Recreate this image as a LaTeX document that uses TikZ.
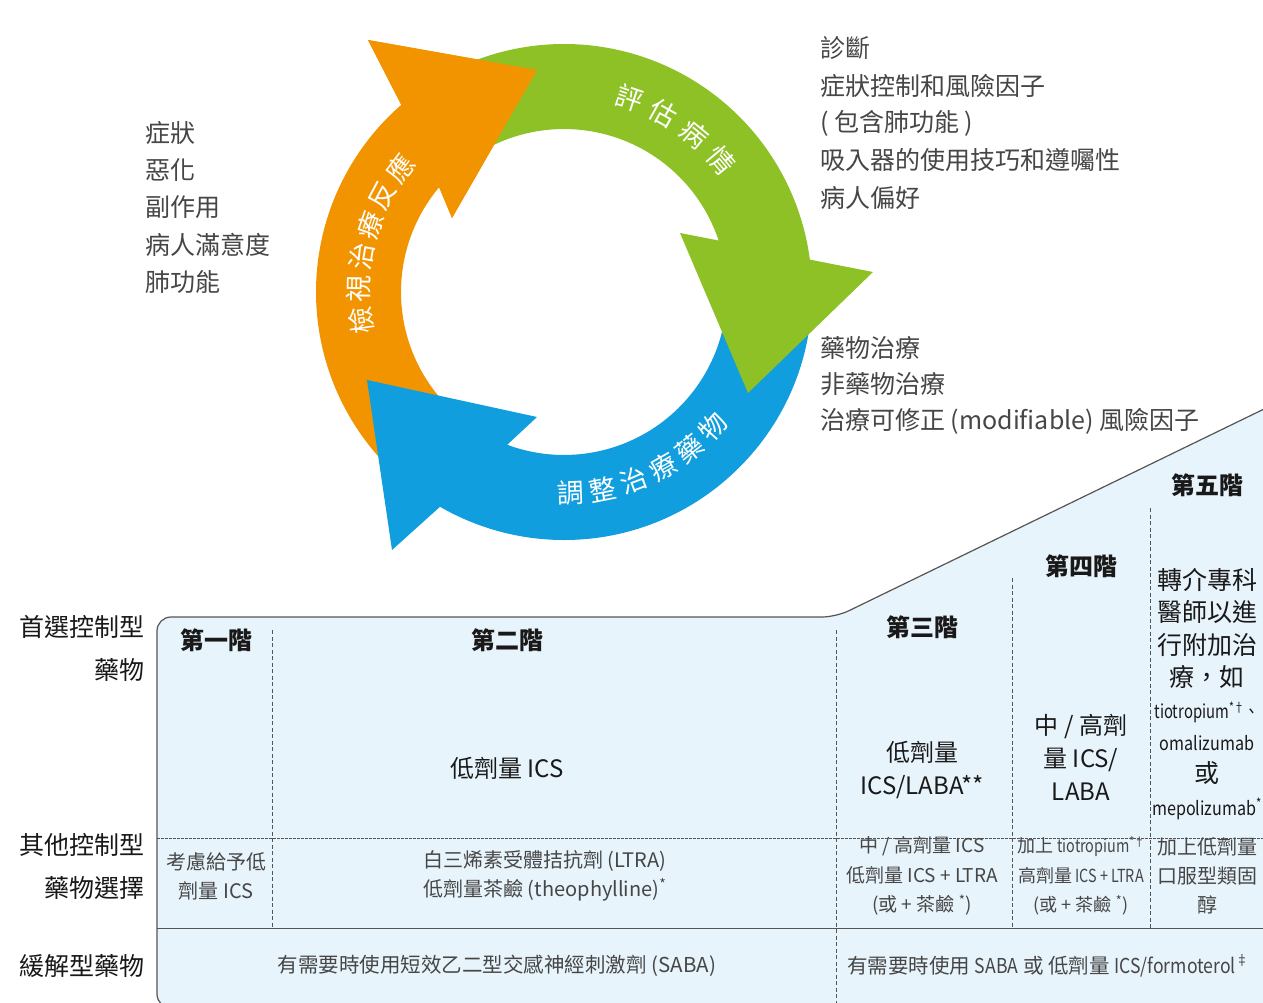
\documentclass[tikz,border=0pt]{standalone}
\usepackage{fontspec}
\setmainfont{Noto Sans CJK TC}
\usepackage{graphicx}
\usepackage{tikz}
\usetikzlibrary{calc}
\definecolor{cycorange}{RGB}{242, 148, 0}
\definecolor{cycgreen}{RGB}{141, 193, 38}
\definecolor{cycblue}{RGB}{16, 158, 222}
\definecolor{steptint}{RGB}{232, 244, 251}
\definecolor{edgegray}{RGB}{85, 85, 85}
\definecolor{txtgray}{RGB}{70, 70, 70}
\definecolor{txtdark}{RGB}{25, 25, 25}
\newcommand{\narrowtxt}[2][0.82]{\scalebox{#1}[1]{#2}}

\begin{document}
\begin{tikzpicture}[
    x=1pt, y=-1pt,
    lst/.style={anchor=west, inner sep=0pt, text=txtgray,
                font=\fontsize{25}{30}\selectfont},
    ringtxt/.style={inner sep=0pt, text=white, font=\fontsize{27}{30}\selectfont},
    rowlbl/.style={anchor=east, align=right, inner sep=0pt, text=txtdark,
                   font=\fontsize{25}{43}\selectfont},
    steplbl/.style={inner sep=0pt, text=txtdark, font=\fontsize{24}{30}\selectfont\bfseries},
    maincell/.style={align=center, inner sep=0pt, text=txtdark,
                     font=\fontsize{24}{33}\selectfont},
    othercell/.style={align=center, inner sep=0pt, text=txtgray,
                      font=\fontsize{20}{29}\selectfont},
    relcell/.style={inner sep=0pt, text=txtgray, font=\fontsize{20.5}{25}\selectfont},
    gridline/.style={draw=edgegray, line width=0.7pt, dash pattern=on 4pt off 2.5pt},
  ]
  \useasboundingbox (0,0) rectangle (1263,1003);
  \fill[white] (0,0) rectangle (1263,1003);

  % ── Cycle ──────────────────────────────────────
  \coordinate (cc) at (564,292);

  \fill[cycorange] ($(cc)+(138:248)$) arc[start angle=138, end angle=229, radius=248]
        -- (368,40) -- (537,70) -- (452,218) -- ($(cc)+(220:163)$)
        arc[start angle=220, end angle=138, radius=163] -- cycle;
  \fill[cycblue] ($(cc)+(0:248)$) arc[start angle=0, end angle=120, radius=248]
        -- (392,550) -- (367,380) -- (537,417) -- ($(cc)+(110.4:163)$)
        arc[start angle=110.4, end angle=0, radius=163] -- cycle;
  \fill[cycgreen] ($(cc)+(238:248)$) arc[start angle=238, end angle=352.5, radius=248]
        -- (873,272) -- (748,393) -- (680,233) -- ($(cc)+(341.6:163)$)
        arc[start angle=341.6, end angle=238, radius=163] -- cycle;
  % orange head again, over the green tail
  \fill[cycorange] ($(cc)+(229:248)$) -- (368,40) -- (537,70) -- (452,218)
        -- ($(cc)+(220:163)$) -- cycle;

  \foreach \ch [count=\i, evaluate=\i as \a using 172+(\i-1)*9] in {檢,視,治,療,反,應}
    \node[ringtxt, rotate=-\a-90] (rv\i) at ($(cc)+(\a:205)$) {\ch};
  \foreach \ch [count=\i, evaluate=\i as \a using 288.7+(\i-1)*10.4] in {評,估,病,情}
    \node[ringtxt, rotate=-\a-90] (ev\i) at ($(cc)+(\a:205)$) {\ch};
  \foreach \ch [count=\i, evaluate=\i as \a using 88-(\i-1)*9.2] in {調,整,治,療,藥,物}
    \node[ringtxt, rotate=-\a+90] (ad\i) at ($(cc)+(\a:201)$) {\ch};

  % ── Side notes ─────────────────────────────────
  \foreach \txt [count=\i from 0] in {症狀,惡化,副作用,病人滿意度,肺功能}
    \node[lst] (sx\i) at (145,133+37.3*\i) {\txt};
  \foreach \txt [count=\i from 0] in {診斷,症狀控制和風險因子,( 包含肺功能 ),吸入器的使用技巧和遵囑性,病人偏好}
    \node[lst] (dx\i) at (820,48+37.5*\i) {\txt};
  \foreach \txt [count=\i from 0] in {藥物治療,非藥物治療,治療可修正 (modifiable) 風險因子}
    \node[lst] (tx\i) at (820,348+36.5*\i) {\txt};

  % ── Step table ─────────────────────────────────
  \path[fill=steptint, draw=edgegray, line width=1.2pt, rounded corners=14pt]
    (1290,1008) -- (157,1008) -- (157,617) -- (836,617) -- (1290,396.4);

  \draw[gridline] (272,630) -- (272,928);
  \draw[gridline] (836,630) -- (836,1003);
  \draw[gridline] (1012,578) -- (1012,928);
  \draw[gridline] (1150,508) -- (1150,928);
  \draw[gridline, dash pattern=on 2.5pt off 1.5pt] (157,838) -- (1263,838);
  \draw[draw=edgegray, line width=1pt] (157,928) -- (1263,928);

  \node[rowlbl] (prefer) at (145,648.5) {首選控制型\\藥物};
  \node[rowlbl] (other)  at (145,866.5) {其他控制型\\藥物選擇};
  \node[rowlbl] (relief) at (145,966)   {緩解型藥物};

  \node[steplbl] (s1) at (216,640)  {第一階};
  \node[steplbl] (s2) at (507,640)  {第二階};
  \node[steplbl] (s3) at (922,627)  {第三階};
  \node[steplbl] (s4) at (1081,566) {第四階};
  \node[steplbl] (s5) at (1207,485) {第五階};

  \node[maincell] (c2) at (507,768)  {低劑量 ICS};
  \node[maincell] (c3) at (922,770)  {低劑量\\ICS/LABA**};
  \node[maincell] (c4) at (1081,757) {中 / 高劑\\量 ICS/\\LABA};
  \node[maincell, font=\fontsize{25}{32.2}\selectfont] (c5) at (1207,694)
        {轉介專科\\醫師以進\\行附加治\\療，如\\
         {\fontsize{19}{32.2}\selectfont\narrowtxt[0.78]{tiotropium\textsuperscript{*†}、}}\\
         {\fontsize{19}{32.2}\selectfont\narrowtxt[0.85]{omalizumab}}\\或\\
         {\fontsize{19}{32.2}\selectfont\narrowtxt[0.85]{mepolizumab\textsuperscript{*}}}};

  \node[othercell] (o1) at (216,876) {考慮給予低\\劑量 ICS};
  \node[othercell] (o2) at (545,876)
        {白三烯素受體拮抗劑 (LTRA)\\低劑量茶鹼 (theophylline)\textsuperscript{*}};
  \node[othercell, font=\fontsize{19}{29.5}\selectfont] (o3) at (922,876)
        {中 / 高劑量 ICS\\低劑量 ICS + LTRA\\(或 + 茶鹼 \textsuperscript{*})};
  \node[othercell, font=\fontsize{18}{29.5}\selectfont] (o4) at (1081,876)
        {加上 \narrowtxt[0.8]{tiotropium\textsuperscript{*†}}\\
         高劑量\narrowtxt[0.8]{ ICS + LTRA}\\(或 + 茶鹼 \textsuperscript{*})};
  \node[othercell] (o5) at (1207,876) {加上低劑量\\口服型類固\\醇};

  \node[relcell] (r1) at (497,966) {有需要時使用短效乙二型交感神經刺激劑 (SABA)};
  \node[relcell] (r2) at (1048,966)
        {有需要時使用 \narrowtxt[0.86]{SABA} 或 低劑量 \narrowtxt[0.86]{ICS/formoterol\textsuperscript{‡}}};

\end{tikzpicture}
\end{document}
